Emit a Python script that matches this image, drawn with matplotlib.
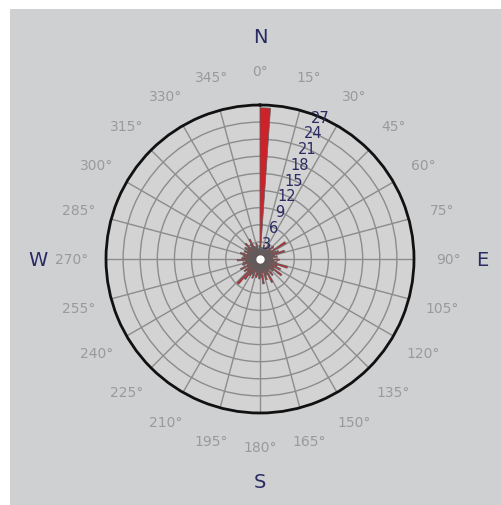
import matplotlib
matplotlib.use("Agg")
import matplotlib.pyplot as plt
import numpy as np

# wind rose: 72 direction bins of 5 degrees, counts per bin
bin_start_deg = list(range(0, 360, 5))
counts = [
    26.5, 2.0, 1.5, 2.5, 1.8, 2.2, 3.0, 2.0, 2.6, 3.2, 2.4, 5.3,
    2.8, 3.5, 4.5, 2.6, 3.0, 2.2, 3.4, 2.5, 3.0, 5.0, 3.2, 4.0,
    2.8, 4.7, 3.0, 2.4, 3.6, 2.6, 4.6, 3.0, 3.8, 2.5, 4.4, 3.2,
    3.5, 2.8, 3.3, 2.4, 3.6, 2.9, 3.4, 4.4, 5.8, 3.0, 3.5, 2.6,
    3.8, 2.4, 3.2, 3.0, 2.6, 4.0, 3.2, 2.8, 3.0, 3.6, 2.4, 3.0,
    2.6, 3.3, 2.8, 3.7, 2.6, 3.0, 3.9, 2.4, 2.2, 2.8, 1.8, 2.4,
]
bin_width_deg = 5
ring_values = [3, 6, 9, 12, 15, 18, 21, 24, 27]
angle_ticks = list(range(0, 360, 15))
cardinals = {"N": 0, "E": 90, "S": 180, "W": 270}

BG = "#cfd0d2"
NAVY = "#2b2b63"

fig = plt.figure(figsize=(5.01, 5.06), dpi=100, facecolor="white")
bg = fig.add_axes([10 / 501, 0, 491 / 501, 496 / 506], zorder=-1)
bg.set_facecolor(BG)
bg.set_xticks([])
bg.set_yticks([])
for s in bg.spines.values():
    s.set_visible(False)

cx, cy, rad = 260 / 501, 1 - 260 / 506, 154
ax = fig.add_axes([cx - rad / 501, cy - rad / 506, 2 * rad / 501, 2 * rad / 506],
                  projection="polar")
ax.set_facecolor("#d3d3d4")
ax.set_theta_zero_location("N")
ax.set_theta_direction(-1)
ax.set_ylim(0, 27)

ax.set_xticks(np.deg2rad(angle_ticks))
ax.set_yticks(ring_values[:-1])
ax.set_xticklabels([])
ax.set_yticklabels([])
ax.grid(True, color="#8c8c8c", linewidth=1.0)
ax.spines["polar"].set_color("#111111")
ax.spines["polar"].set_linewidth(2.0)

# bars a bit narrower than the bin so the small ones read as separate spikes
ax.bar(np.deg2rad(bin_start_deg), counts, width=np.deg2rad(bin_width_deg - 1),
       align="edge", color="#cc2229", edgecolor="#5e5e5e", linewidth=0.5,
       zorder=3)
ax.scatter([0], [0], s=36, color="white", zorder=5, linewidths=0)

for v in ring_values:
    ax.text(np.deg2rad(23), v, str(v), color=NAVY, fontsize=10.5,
            ha="center", va="center", zorder=6)

for a in angle_ticks:
    ax.text(np.deg2rad(a), 33, f"{a}°", color="#9a9a9a", fontsize=10,
            ha="center", va="center", clip_on=False)

for name, a in cardinals.items():
    ax.text(np.deg2rad(a), 39, name, color=NAVY, fontsize=14,
            ha="center", va="center", clip_on=False)

fig.savefig("out.png", dpi=100, facecolor=fig.get_facecolor())
